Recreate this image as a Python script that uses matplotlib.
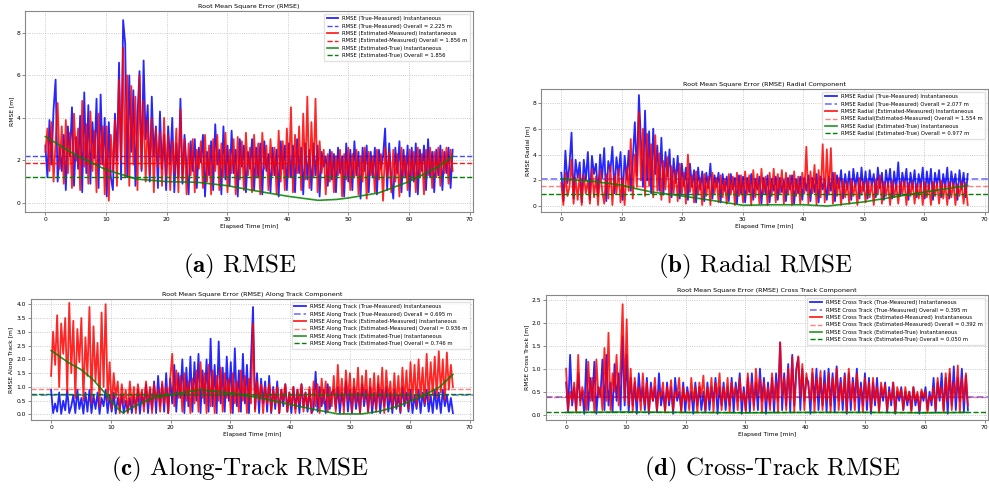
import numpy as np
import matplotlib
matplotlib.use("Agg")
import matplotlib.pyplot as plt

plt.rcParams['mathtext.fontset'] = 'cm'

# ---- data (200 samples over 0..67.2 min) ----
T_END = 67.2

rmse_tm = [2.7, 1.2, 3.9, 1.8, 4.4, 5.8, 1.0, 2.6, 1.5, 3.2,
           0.6, 3.6, 2.2, 4.5, 0.8, 3.1, 1.6, 4.1, 0.5, 5.2,
           1.4, 4.6, 0.9, 3.8, 2.1, 4.9, 0.7, 5.1, 1.8, 4.0,
           0.3, 3.8, 1.2, 0.6, 4.2, 2.0, 6.6, 1.1, 8.6, 7.5,
           1.2, 6.0, 2.4, 5.3, 0.8, 4.1, 6.2, 1.5, 6.7, 3.0,
           4.6, 1.0, 5.0, 2.2, 3.6, 0.7, 4.3, 1.6, 3.2, 0.6,
           3.6, 1.8, 4.0, 0.5, 2.8, 1.2, 4.9, 0.9, 3.2, 1.7,
           0.4, 2.9, 1.5, 3.0, 0.7, 2.6, 1.9, 3.2, 0.3, 2.4,
           1.3, 2.9, 0.6, 3.7, 1.8, 2.5, 0.4, 3.6, 1.1, 2.7,
           0.8, 3.4, 1.4, 2.5, 0.3, 3.0, 1.7, 2.7, 0.5, 2.4,
           1.6, 3.0, 0.6, 2.6, 1.2, 2.8, 0.4, 2.9, 1.5, 2.3,
           0.5, 2.6, 1.3, 2.5, 0.3, 2.9, 1.6, 2.7, 0.6, 2.8,
           1.2, 2.7, 0.5, 3.0, 1.4, 2.6, 0.4, 2.8, 1.1, 2.5,
           0.6, 2.8, 1.3, 2.7, 0.3, 2.4, 1.7, 2.2, 0.8, 2.5,
           1.1, 2.3, 0.5, 2.6, 1.4, 2.2, 0.3, 2.8, 1.0, 2.5,
           0.6, 2.9, 1.3, 2.4, 0.2, 2.6, 1.5, 2.7, 0.5, 2.4,
           1.2, 2.6, 0.4, 2.5, 1.6, 2.2, 3.5, 0.6, 2.8, 1.1,
           0.2, 2.6, 1.4, 2.9, 0.5, 2.5, 1.2, 2.7, 0.3, 2.6,
           1.0, 2.8, 0.4, 2.5, 1.5, 2.7, 0.6, 3.0, 1.2, 2.4,
           0.5, 2.5, 1.3, 2.7, 0.6, 2.4, 1.4, 2.6, 0.7, 2.5]
rmse_em = [2.4, 3.5, 1.5, 3.8, 1.0, 2.9, 4.7, 1.6, 3.6, 0.9,
           3.9, 1.4, 3.3, 0.7, 4.2, 2.0, 3.5, 0.6, 4.8, 1.7,
           3.7, 0.9, 4.3, 1.5, 3.4, 0.5, 4.2, 1.8, 3.6, 0.4,
           3.6, 0.1, 3.2, 1.5, 3.9, 0.8, 5.8, 2.0, 7.3, 1.2,
           6.0, 0.8, 5.5, 1.8, 5.0, 0.6, 6.0, 1.6, 4.8, 1.0,
           3.9, 1.3, 4.0, 0.5, 3.5, 1.7, 3.3, 0.8, 4.0, 1.2,
           3.2, 0.6, 2.9, 1.4, 3.5, 0.5, 4.4, 1.1, 3.0, 0.4,
           2.8, 1.3, 3.0, 0.5, 2.5, 1.6, 2.9, 0.7, 3.2, 1.0,
           2.7, 0.4, 3.0, 1.5, 3.2, 0.6, 2.8, 1.2, 3.3, 0.5,
           2.5, 1.4, 3.0, 0.4, 3.1, 1.1, 2.9, 0.6, 3.3, 1.3,
           2.6, 0.5, 3.2, 1.2, 2.8, 0.4, 3.3, 1.6, 2.7, 0.6,
           3.0, 1.3, 2.6, 0.4, 3.4, 1.0, 2.9, 0.6, 3.5, 1.2,
           4.5, 0.5, 3.2, 1.4, 3.6, 0.6, 4.2, 1.1, 5.0, 0.7,
           3.8, 1.2, 4.9, 0.5, 2.9, 1.4, 2.5, 0.4, 2.3, 1.0,
           2.4, 0.5, 2.2, 1.3, 2.5, 0.3, 2.3, 1.1, 2.6, 0.6,
           2.3, 1.2, 2.5, 0.4, 2.2, 1.0, 2.6, 0.2, 2.4, 1.3,
           2.2, 0.5, 2.5, 1.1, 2.3, 0.1, 2.6, 1.2, 2.4, 0.5,
           2.5, 1.0, 2.3, 0.3, 2.6, 1.2, 2.2, 0.6, 2.5, 1.1,
           2.4, 0.5, 2.6, 1.2, 2.3, 0.4, 2.5, 1.3, 2.6, 0.7,
           2.4, 1.2, 2.6, 0.8, 2.5, 1.4, 2.6, 0.9, 2.5, 1.5]
green_t = [0, 5, 10, 13, 15, 20, 25, 30, 35, 40, 45, 48, 50, 55, 60, 65, 67.2]
rmse_et = [3.12, 2.25, 1.56, 1.3, 1.12, 1.0, 0.97, 0.81, 0.55, 0.31, 0.12, 0.16, 0.23, 0.47, 1.0, 1.72, 2.2]

radial_tm = [2.6, 0.4, 4.3, 1.8, 3.2, 5.7, 0.6, 3.6, 2.2, 3.4,
             0.3, 3.6, 2.0, 4.2, 0.5, 3.9, 2.5, 3.3, 0.8, 4.0,
             2.2, 4.5, 0.4, 3.5, 2.7, 4.6, 1.0, 3.8, 2.4, 4.2,
             0.5, 3.9, 2.1, 4.3, 1.2, 3.6, 6.5, 2.4, 8.6, 5.0,
             1.5, 7.4, 2.0, 5.8, 1.0, 6.0, 2.5, 4.7, 1.2, 5.3,
             0.9, 4.2, 2.3, 4.4, 0.7, 3.7, 1.8, 3.9, 0.6, 3.3,
             1.6, 3.0, 0.5, 3.3, 1.5, 2.8, 0.3, 3.0, 1.3, 2.7,
             0.4, 2.6, 1.4, 3.3, 0.6, 2.4, 1.5, 2.6, 0.3, 2.5,
             1.2, 2.3, 0.4, 2.5, 1.3, 2.2, 0.2, 2.4, 1.0, 2.3,
             0.3, 2.2, 1.1, 2.5, 0.5, 2.1, 1.3, 2.3, 0.2, 2.2,
             1.0, 2.4, 0.3, 2.1, 1.2, 2.3, 0.5, 2.2, 1.1, 2.0,
             0.4, 2.2, 1.3, 2.4, 0.2, 2.1, 1.0, 2.3, 0.5, 2.2,
             1.2, 2.4, 0.4, 2.2, 1.1, 2.5, 0.3, 2.3, 1.3, 2.1,
             0.5, 2.3, 1.2, 2.6, 0.4, 2.4, 1.4, 2.8, 0.6, 2.5,
             1.3, 2.7, 0.5, 2.9, 1.5, 2.6, 0.6, 3.0, 1.2, 2.7,
             0.6, 2.8, 1.6, 2.5, 0.7, 3.0, 1.4, 2.6, 0.5, 2.8,
             1.5, 2.9, 0.6, 2.7, 1.3, 3.4, 0.8, 2.6, 1.6, 2.9,
             0.5, 2.6, 1.4, 2.8, 0.7, 2.5, 1.5, 3.0, 0.6, 2.7,
             1.3, 2.9, 0.5, 2.6, 1.6, 2.8, 0.7, 2.5, 1.4, 3.0,
             0.6, 2.7, 1.5, 2.5, 0.5, 2.8, 1.3, 2.6, 0.7, 2.5]
radial_em = [1.8, 0.1, 2.6, 0.8, 1.5, 3.6, 0.2, 2.2, 0.5, 2.5,
             0.1, 2.4, 1.0, 2.0, 0.2, 2.9, 0.7, 2.3, 0.1, 2.8,
             1.2, 0.2, 2.5, 0.6, 3.1, 0.1, 2.4, 1.0, 2.9, 0.3,
             2.2, 0.1, 3.0, 1.2, 5.2, 0.6, 4.0, 1.5, 7.3, 2.0,
             6.0, 0.8, 5.6, 1.6, 4.8, 0.7, 5.5, 1.2, 4.1, 0.5,
             3.5, 1.3, 3.8, 0.3, 3.1, 1.0, 2.8, 0.4, 3.3, 0.9,
             2.6, 0.2, 4.0, 1.1, 2.4, 0.3, 2.7, 0.9, 2.2, 0.1,
             2.5, 0.8, 2.3, 0.1, 2.6, 1.0, 2.2, 0.3, 2.4, 0.7,
             2.1, 0.2, 2.5, 0.9, 2.3, 0.1, 2.6, 0.8, 2.4, 0.3,
             2.7, 0.9, 2.4, 0.1, 2.8, 0.7, 2.5, 0.2, 2.9, 1.0,
             2.3, 0.1, 2.6, 0.8, 2.9, 0.3, 2.5, 1.0, 2.8, 0.2,
             2.6, 0.9, 2.4, 0.1, 2.7, 0.8, 2.3, 0.2, 2.6, 1.0,
             4.6, 0.2, 2.7, 1.0, 3.2, 0.1, 2.8, 0.7, 4.8, 0.3,
             4.4, 0.9, 4.5, 0.2, 2.6, 0.8, 2.2, 0.1, 2.0, 0.7,
             1.9, 0.2, 2.1, 0.8, 1.8, 0.1, 2.2, 0.9, 1.9, 0.3,
             2.0, 0.7, 1.8, 0.1, 2.1, 0.9, 2.4, 0.2, 1.9, 0.8,
             1.8, 0.1, 2.0, 0.7, 1.7, 0.2, 1.9, 0.9, 2.0, 0.1,
             1.8, 0.8, 1.9, 0.2, 1.7, 0.6, 1.8, 0.1, 1.9, 0.7,
             1.7, 0.1, 1.9, 0.8, 1.8, 0.2, 2.0, 0.6, 1.7, 0.1,
             1.9, 0.7, 1.8, 0.1, 1.7, 0.8, 1.9, 0.2, 1.8, 0.1]
radial_t = [0, 5, 10, 12, 15, 20, 25, 30, 35, 40, 44, 50, 55, 60, 65, 67.2]
radial_et = [2.1, 1.95, 1.63, 1.4, 1.1, 0.8, 0.45, 0.08, 0.12, 0.12, 0.02, 0.34, 0.72, 1.1, 1.45, 1.6]

along_tm = [0.9, 0.05, 0.4, 0.1, 0.8, 0.02, 0.5, 0.15, 0.9, 0.05,
            0.3, 0.7, 0.05, 0.9, 0.2, 0.6, 0.03, 0.8, 0.1, 0.9,
            0.05, 0.7, 0.2, 0.8, 0.02, 0.6, 0.3, 0.9, 0.05, 0.7,
            0.1, 0.8, 0.03, 0.6, 0.2, 0.7, 0.05, 0.5, 0.1, 0.6,
            0.05, 0.7, 0.2, 0.9, 0.03, 0.8, 0.3, 1.1, 0.05, 0.9,
            0.2, 1.2, 0.05, 1.4, 0.3, 1.1, 0.1, 1.5, 0.05, 1.3,
            0.4, 1.8, 0.1, 1.5, 0.6, 2.0, 0.05, 1.7, 0.3, 2.1,
            0.1, 1.9, 0.5, 2.2, 0.05, 1.6, 0.4, 2.0, 0.1, 2.75,
            0.3, 1.8, 0.05, 2.65, 0.4, 1.7, 0.1, 2.1, 0.5, 1.9,
            0.05, 2.4, 0.3, 1.6, 0.1, 2.2, 0.4, 1.8, 0.05, 2.0,
            3.9, 0.2, 1.5, 0.05, 1.3, 0.4, 1.2, 0.1, 1.4, 0.05,
            1.0, 0.2, 1.2, 0.05, 0.9, 0.3, 1.1, 0.1, 0.8, 0.05,
            1.0, 0.2, 0.9, 0.05, 1.1, 0.3, 0.8, 0.1, 0.9, 0.05,
            0.2, 1.55, 0.1, 1.0, 0.3, 0.9, 0.05, 1.1, 0.2, 0.8,
            0.9, 0.2, 1.0, 0.05, 0.8, 0.3, 1.2, 0.1, 0.9, 0.05,
            1.0, 0.2, 0.8, 0.05, 1.1, 0.3, 0.9, 0.1, 1.0, 0.05,
            0.8, 0.2, 1.1, 0.05, 0.9, 0.3, 1.0, 0.1, 0.8, 0.05,
            0.9, 0.2, 0.7, 0.05, 1.0, 0.3, 0.8, 0.1, 0.9, 0.05,
            0.7, 0.2, 0.9, 0.05, 0.8, 0.3, 0.9, 0.1, 0.7, 0.05,
            0.9, 0.2, 0.8, 0.05, 0.9, 0.3, 0.7, 0.1, 0.6, 0.05]
along_em = [1.4, 3.0, 1.8, 3.6, 1.0, 3.3, 2.2, 3.5, 0.8, 4.05,
            1.5, 3.4, 0.6, 3.1, 1.9, 3.5, 0.5, 2.8, 1.4, 3.9,
            0.4, 3.2, 1.2, 2.6, 0.3, 3.7, 1.0, 4.0, 0.5, 1.9,
            0.2, 1.5, 0.6, 1.2, 0.05, 1.1, 0.4, 0.9, 0.05, 1.2,
            0.3, 1.0, 0.05, 1.1, 0.5, 0.9, 0.1, 1.2, 0.4, 1.0,
            0.05, 1.1, 0.5, 0.9, 0.1, 1.2, 0.4, 1.0, 0.05, 1.3,
            2.2, 0.3, 1.6, 0.6, 1.4, 0.1, 1.5, 0.5, 1.2, 0.05,
            1.3, 0.4, 1.6, 0.1, 1.9, 0.6, 1.5, 0.05, 1.8, 0.3,
            1.6, 0.05, 1.4, 0.5, 1.7, 0.1, 1.5, 0.6, 1.3, 0.05,
            1.5, 0.4, 1.2, 0.1, 1.6, 0.5, 1.4, 0.05, 1.3, 0.4,
            3.3, 0.1, 1.2, 0.5, 1.1, 0.05, 1.0, 0.4, 1.1, 0.1,
            0.9, 0.4, 1.0, 0.05, 0.9, 0.5, 1.1, 0.1, 0.8, 0.3,
            1.0, 0.05, 0.9, 0.4, 1.1, 0.1, 0.8, 0.3, 1.0, 0.05,
            1.2, 0.3, 1.1, 0.05, 1.3, 0.4, 1.2, 0.1, 1.0, 0.3,
            1.4, 0.1, 1.8, 0.4, 1.3, 0.05, 1.6, 0.5, 1.5, 0.1,
            1.3, 0.4, 1.7, 0.05, 1.4, 0.5, 1.6, 0.1, 1.3, 0.3,
            1.5, 0.1, 1.4, 0.4, 1.7, 0.05, 1.6, 0.5, 1.2, 0.2,
            1.5, 0.3, 1.4, 0.1, 1.7, 0.4, 1.6, 0.2, 1.9, 0.5,
            1.8, 0.3, 2.0, 0.6, 1.7, 0.4, 2.2, 0.5, 1.9, 0.7,
            2.1, 0.6, 2.3, 0.8, 2.0, 0.5, 2.25, 0.9, 1.8, 1.0]
along_t = [0, 3, 5, 7, 9, 11, 12, 14, 17, 20, 25, 30, 35, 40, 45, 48, 52, 55, 58, 62, 65, 67.2]
along_et = [2.32, 1.87, 1.63, 1.27, 0.78, 0.24, 0.06, 0.3, 0.6, 0.72, 0.9, 0.78, 0.6, 0.36, 0.14,
            0.02, 0.02, 0.12, 0.3, 0.66, 1.0, 1.45]

cross_tm = [0.7, 0.05, 1.3, 0.2, 0.6, 0.1, 0.9, 0.3, 0.5, 0.02,
            1.2, 0.1, 0.8, 0.3, 1.15, 0.02, 0.6, 0.4, 1.2, 0.1,
            1.3, 0.2, 0.7, 0.05, 1.1, 0.3, 0.9, 0.1, 1.7, 0.2,
            1.3, 0.05, 0.8, 0.2, 0.7, 0.02, 0.9, 0.3, 0.6, 0.1,
            0.8, 0.02, 0.7, 0.3, 0.6, 0.05, 0.9, 0.2, 0.5, 0.1,
            0.7, 0.2, 0.6, 0.02, 0.8, 0.3, 0.5, 0.1, 0.7, 0.05,
            0.6, 0.3, 0.5, 0.02, 0.7, 0.2, 0.6, 0.1, 0.5, 0.05,
            0.7, 0.1, 0.6, 0.3, 0.8, 0.02, 0.6, 0.2, 0.7, 0.1,
            0.6, 0.2, 0.8, 0.05, 0.7, 0.3, 0.9, 0.02, 0.6, 0.1,
            0.8, 0.05, 0.9, 0.2, 0.7, 0.1, 1.0, 0.3, 0.8, 0.02,
            0.7, 0.2, 0.8, 0.05, 0.9, 0.3, 1.57, 0.1, 0.9, 0.2,
            1.1, 0.05, 1.3, 0.2, 1.0, 1.25, 0.1, 1.0, 0.3, 0.8,
            0.7, 0.02, 0.9, 0.3, 1.0, 0.1, 0.8, 0.2, 0.95, 0.05,
            1.0, 0.2, 0.9, 0.05, 1.05, 0.3, 0.8, 0.1, 0.9, 0.02,
            0.9, 0.1, 0.8, 0.3, 1.0, 0.05, 0.7, 0.2, 0.9, 0.1,
            0.8, 0.02, 0.7, 0.2, 0.8, 0.1, 0.6, 0.3, 0.7, 0.05,
            0.6, 0.2, 0.7, 0.02, 0.5, 0.3, 0.6, 0.1, 0.5, 0.2,
            0.5, 0.1, 0.6, 0.2, 0.45, 0.02, 0.5, 0.3, 0.6, 0.1,
            0.5, 0.2, 0.8, 0.05, 0.7, 0.3, 0.9, 0.1, 0.8, 0.02,
            0.9, 0.2, 1.05, 0.1, 0.8, 0.3, 1.0, 0.05, 0.85, 0.1]
cross_em = [1.0, 0.1, 0.5, 0.3, 0.7, 0.05, 1.3, 0.2, 0.6, 0.4,
            0.1, 1.15, 0.3, 0.8, 0.05, 1.2, 0.4, 0.6, 0.1, 1.45,
            0.3, 1.78, 0.1, 0.9, 0.5, 1.3, 0.2, 1.1, 2.4, 0.3,
            2.07, 0.2, 1.0, 0.05, 0.8, 0.3, 0.6, 0.1, 0.9, 0.2,
            0.7, 0.05, 0.6, 0.3, 0.8, 0.1, 0.5, 0.4, 0.7, 0.05,
            0.6, 0.3, 0.75, 0.1, 0.5, 0.4, 0.8, 0.05, 0.6, 0.3,
            0.5, 0.1, 0.8, 0.3, 0.6, 0.05, 0.7, 0.4, 0.85, 0.1,
            0.6, 0.3, 0.8, 0.05, 0.7, 0.4, 0.9, 0.1, 0.6, 0.3,
            0.8, 0.05, 0.7, 0.4, 0.6, 0.1, 0.8, 0.3, 0.5, 0.05,
            0.9, 0.3, 0.7, 0.1, 1.0, 0.4, 0.8, 0.05, 0.7, 0.3,
            0.6, 0.1, 0.9, 0.3, 0.7, 0.05, 1.57, 0.4, 0.8, 0.1,
            1.0, 0.3, 1.25, 0.05, 0.9, 1.27, 0.4, 1.1, 0.1, 0.9,
            0.6, 0.3, 1.0, 0.05, 0.8, 0.4, 0.95, 0.1, 0.7, 0.3,
            0.9, 0.05, 0.8, 0.4, 1.0, 0.1, 0.7, 0.3, 0.85, 0.05,
            1.0, 0.3, 0.7, 0.1, 0.9, 0.4, 0.6, 0.05, 0.8, 0.3,
            0.7, 0.1, 0.8, 0.3, 0.6, 0.05, 0.7, 0.4, 0.65, 0.1,
            0.5, 0.3, 0.7, 0.05, 0.6, 0.4, 0.55, 0.1, 0.6, 0.3,
            0.5, 0.05, 0.6, 0.3, 0.5, 0.1, 0.55, 0.4, 0.5, 0.05,
            0.4, 0.3, 0.6, 0.1, 0.8, 0.4, 0.6, 0.05, 0.9, 0.3,
            1.0, 0.1, 0.7, 0.4, 1.07, 0.05, 0.8, 0.3, 0.9, 0.2]
cross_t = [0, 10, 20, 30, 40, 50, 60, 67.2]
cross_et = [0.05, 0.06, 0.05, 0.04, 0.05, 0.05, 0.04, 0.05]

# overall values: true-measured, estimated-measured, estimated-true
overall_a = [2.225, 1.856, 1.22]
overall_b = [2.077, 1.554, 0.977]
overall_c = [0.695, 0.936, 0.746]
overall_d = [0.395, 0.392, 0.050]

labels_a = ['RMSE (True-Measured) Instantaneous',
            'RMSE (True-Measured) Overall = 2.225 m',
            'RMSE (Estimated-Measured) Instantaneous',
            'RMSE (Estimated-Measured) Overall = 1.856 m',
            'RMSE (Estimated-True) Instantaneous',
            'RMSE (Estimated-True) Overall = 1.856']
labels_b = ['RMSE Radial (True-Measured) Instantaneous',
            'RMSE Radial (True-Measured) Overall = 2.077 m',
            'RMSE Radial (Estimated-Measured) Instantaneous',
            'RMSE Radial(Estimated-Measured) Overall = 1.554 m',
            'RMSE Radial (Estimated-True) Instantaneous',
            'RMSE Radial (Estimated-True) Overall = 0.977 m']
labels_c = ['RMSE Along Track (True-Measured) Instantaneous',
            'RMSE Along Track (True-Measured) Overall = 0.695 m',
            'RMSE Along Track (Estimated-Measured) Instantaneous',
            'RMSE Along Track (Estimated-Measured) Overall = 0.936 m',
            'RMSE Along Track (Estimated-True) Instantaneous',
            'RMSE Along Track (Estimated-True) Overall = 0.746 m']
labels_d = ['RMSE Cross Track (True-Measured) Instantaneous',
            'RMSE Cross Track (True-Measured) Overall = 0.395 m',
            'RMSE Cross Track (Estimated-Measured) Instantaneous',
            'RMSE Cross Track (Estimated-Measured) Overall = 0.392 m',
            'RMSE Cross Track (Estimated-True) Instantaneous',
            'RMSE Cross Track (Estimated-True) Overall = 0.050 m']


def px_axes(fig, left, top, right, bottom):
    W, H = 989.0, 494.0
    return fig.add_axes([left / W, 1 - bottom / H, (right - left) / W, (bottom - top) / H])


def draw_panel(ax, tm, em, gt, et, overall, labels, title, ylabel, ylim, yticks, light):
    t = np.linspace(0, T_END, len(tm))
    ax.plot(t, tm, color='blue', lw=1.3, alpha=0.85, label=labels[0])
    ax.axhline(overall[0], color='blue', ls='--', lw=1.3 if light else 1.0,
               alpha=0.5 if light else 0.7, label=labels[1])
    ax.plot(t, em, color='red', lw=1.3, alpha=0.85, label=labels[2])
    ax.axhline(overall[1], color='red', ls='--', lw=1.0,
               alpha=0.5 if light else 0.9, label=labels[3])
    ax.plot(gt, et, color='green', lw=1.2, alpha=0.85, label=labels[4])
    ax.axhline(overall[2], color='green', ls='--', lw=1.0, label=labels[5])

    ax.set_xlim(-3.36, 70.56)
    ax.set_ylim(*ylim)
    ax.set_xticks(range(0, 71, 10))
    ax.set_yticks(yticks)
    ax.grid(True, ls=':', color='#bbbbbb', lw=0.6)
    ax.set_title(title, fontsize=4.6, pad=2)
    ax.set_xlabel('Elapsed Time [min]', fontsize=4.3, labelpad=1.5)
    ax.set_ylabel(ylabel, fontsize=4.3, labelpad=1.5)
    ax.tick_params(labelsize=4.3, length=2, width=0.5, pad=1.5, color='#555555')
    for s in ax.spines.values():
        s.set_color('#888888')
        s.set_linewidth(0.8)
    ax.legend(loc='upper right', fontsize=3.8, handlelength=2.2, borderpad=0.5,
              labelspacing=0.45, framealpha=0.85, edgecolor='#dddddd')


fig = plt.figure(figsize=(9.89, 4.94), dpi=100)

ax_a = px_axes(fig, 25, 11, 473, 212)
draw_panel(ax_a, rmse_tm, rmse_em, green_t, rmse_et, overall_a, labels_a,
           'Root Mean Square Error (RMSE)', 'RMSE [m]', (-0.43, 9.03), [0, 2, 4, 6, 8], False)

ax_b = px_axes(fig, 541, 89, 988, 212)
draw_panel(ax_b, radial_tm, radial_em, radial_t, radial_et, overall_b, labels_b,
           'Root Mean Square Error (RMSE) Radial Component', 'RMSE Radial [m]',
           (-0.44, 9.07), [0, 2, 4, 6, 8], True)

ax_c = px_axes(fig, 31, 299, 473, 420)
draw_panel(ax_c, along_tm, along_em, along_t, along_et, overall_c, labels_c,
           'Root Mean Square Error (RMSE) Along Track Component', 'RMSE Along Track [m]',
           (-0.2, 4.19), np.arange(0, 4.01, 0.5), True)

ax_d = px_axes(fig, 546, 295, 988, 420)
draw_panel(ax_d, cross_tm, cross_em, cross_t, cross_et, overall_d, labels_d,
           'Root Mean Square Error (RMSE) Cross Track Component', 'RMSE Cross Track [m]',
           (-0.115, 2.6), np.arange(0, 2.51, 0.5), True)

# sub-captions
cap = dict(fontsize=18, family='cmr10', ha='center', va='center')
fig.text(240 / 989, 1 - 266 / 494, r'$\mathbf{(a)}$ RMSE', **cap)
fig.text(755 / 989, 1 - 266 / 494, r'$\mathbf{(b)}$ Radial RMSE', **cap)
fig.text(240 / 989, 1 - 469 / 494, r'$\mathbf{(c)}$ Along-Track RMSE', **cap)
fig.text(772 / 989, 1 - 469 / 494, r'$\mathbf{(d)}$ Cross-Track RMSE', **cap)

fig.savefig('out.png', dpi=100)
